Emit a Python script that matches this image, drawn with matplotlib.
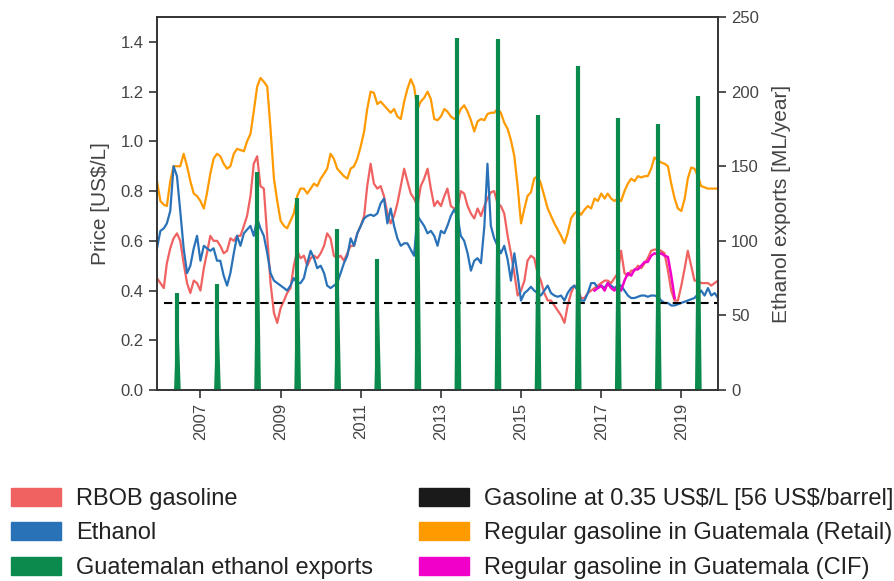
import numpy as np
import pandas as pd
import matplotlib
matplotlib.use('Agg')
import matplotlib.pyplot as plt
import matplotlib.dates as mdates
from matplotlib.patches import Patch

# monthly dates, Dec 2005 .. Dec 2019
dates = pd.date_range('2005-12-01', '2019-12-01', freq='MS')

# US$/L
rbob = [
    0.45, 0.43, 0.41, 0.51, 0.57, 0.61, 0.63, 0.60, 0.51, 0.43,
    0.39, 0.44, 0.43, 0.40, 0.49, 0.55, 0.62, 0.60, 0.60, 0.58,
    0.55, 0.56, 0.61, 0.60, 0.62, 0.62, 0.66, 0.70, 0.78, 0.91,
    0.94, 0.82, 0.81, 0.62, 0.43, 0.31, 0.27, 0.33, 0.36, 0.39,
    0.41, 0.50, 0.56, 0.53, 0.54, 0.50, 0.53, 0.54, 0.53, 0.55,
    0.58, 0.63, 0.61, 0.54, 0.53, 0.54, 0.52, 0.55, 0.58, 0.58,
    0.63, 0.66, 0.70, 0.82, 0.91, 0.83, 0.81, 0.82, 0.78, 0.71,
    0.67, 0.70, 0.75, 0.82, 0.89, 0.84, 0.79, 0.77, 0.74, 0.82,
    0.85, 0.89, 0.81, 0.74, 0.76, 0.74, 0.78, 0.81, 0.74, 0.73,
    0.73, 0.80, 0.79, 0.74, 0.71, 0.69, 0.73, 0.70, 0.74, 0.77,
    0.795, 0.80, 0.75, 0.74, 0.71, 0.62, 0.55, 0.47, 0.38, 0.40,
    0.44, 0.52, 0.54, 0.53, 0.47, 0.44, 0.39, 0.36, 0.36, 0.34,
    0.32, 0.30, 0.27, 0.34, 0.39, 0.42, 0.41, 0.37, 0.37, 0.39,
    0.40, 0.41, 0.42, 0.43, 0.44, 0.44, 0.43, 0.45, 0.47, 0.56,
    0.47, 0.46, 0.48, 0.48, 0.50, 0.49, 0.51, 0.53, 0.56, 0.565,
    0.565, 0.56, 0.55, 0.48, 0.40, 0.36, 0.36, 0.42, 0.49, 0.56,
    0.50, 0.44, 0.44, 0.43, 0.43, 0.43, 0.42, 0.43, 0.44,
]

ethanol = [
    0.57, 0.64, 0.65, 0.67, 0.72, 0.90, 0.86, 0.72, 0.57, 0.47,
    0.50, 0.57, 0.62, 0.52, 0.58, 0.57, 0.56, 0.57, 0.52, 0.52,
    0.46, 0.42, 0.47, 0.55, 0.62, 0.58, 0.63, 0.645, 0.66, 0.62,
    0.69, 0.65, 0.62, 0.55, 0.47, 0.44, 0.43, 0.42, 0.41, 0.40,
    0.42, 0.45, 0.43, 0.43, 0.45, 0.51, 0.56, 0.53, 0.49, 0.50,
    0.47, 0.42, 0.41, 0.42, 0.43, 0.47, 0.51, 0.54, 0.61, 0.58,
    0.63, 0.66, 0.69, 0.70, 0.705, 0.70, 0.71, 0.75, 0.77, 0.67,
    0.73, 0.66, 0.61, 0.58, 0.59, 0.59, 0.565, 0.54, 0.70, 0.68,
    0.66, 0.63, 0.64, 0.62, 0.58, 0.64, 0.63, 0.66, 0.70, 0.725,
    0.70, 0.62, 0.60, 0.55, 0.48, 0.52, 0.53, 0.51, 0.66, 0.91,
    0.66, 0.61, 0.58, 0.55, 0.58, 0.525, 0.44, 0.55, 0.46, 0.36,
    0.39, 0.40, 0.415, 0.40, 0.39, 0.38, 0.40, 0.42, 0.39, 0.38,
    0.375, 0.38, 0.36, 0.39, 0.41, 0.42, 0.40, 0.36, 0.36, 0.39,
    0.43, 0.43, 0.41, 0.42, 0.41, 0.43, 0.42, 0.41, 0.42, 0.42,
    0.40, 0.38, 0.37, 0.37, 0.375, 0.38, 0.38, 0.375, 0.38, 0.38,
    0.375, 0.36, 0.35, 0.35, 0.34, 0.34, 0.345, 0.35, 0.355, 0.36,
    0.365, 0.37, 0.385, 0.40, 0.38, 0.41, 0.38, 0.39, 0.37,
]

retail = [
    0.84, 0.76, 0.745, 0.74, 0.84, 0.90, 0.90, 0.90, 0.95, 0.90,
    0.84, 0.79, 0.78, 0.76, 0.73, 0.79, 0.87, 0.93, 0.95, 0.94,
    0.91, 0.89, 0.90, 0.95, 0.97, 0.965, 0.96, 1.00, 1.03, 1.12,
    1.22, 1.255, 1.24, 1.22, 1.05, 0.85, 0.76, 0.68, 0.66, 0.65,
    0.68, 0.71, 0.78, 0.81, 0.81, 0.79, 0.81, 0.83, 0.82, 0.85,
    0.87, 0.89, 0.95, 0.93, 0.89, 0.875, 0.86, 0.85, 0.89, 0.90,
    0.93, 0.98, 1.04, 1.13, 1.20, 1.195, 1.15, 1.16, 1.145, 1.13,
    1.115, 1.13, 1.10, 1.09, 1.16, 1.21, 1.25, 1.22, 1.13, 1.16,
    1.175, 1.20, 1.17, 1.09, 1.085, 1.10, 1.13, 1.12, 1.10, 1.09,
    1.10, 1.13, 1.145, 1.12, 1.085, 1.04, 1.08, 1.09, 1.085, 1.11,
    1.115, 1.115, 1.13, 1.115, 1.075, 1.05, 1.005, 0.94, 0.82, 0.67,
    0.73, 0.78, 0.795, 0.85, 0.86, 0.83, 0.78, 0.73, 0.70, 0.67,
    0.645, 0.62, 0.59, 0.63, 0.69, 0.71, 0.72, 0.705, 0.725, 0.74,
    0.73, 0.77, 0.76, 0.79, 0.77, 0.79, 0.77, 0.76, 0.77, 0.76,
    0.80, 0.83, 0.85, 0.84, 0.86, 0.855, 0.86, 0.86, 0.89, 0.935,
    0.925, 0.915, 0.91, 0.90, 0.83, 0.77, 0.73, 0.72, 0.77, 0.85,
    0.895, 0.89, 0.86, 0.82, 0.815, 0.81, 0.81, 0.81, 0.81,
]

# CIF price, Nov 2016 .. Nov 2018
cif_dates = pd.date_range('2016-11-01', '2018-11-01', freq='MS')
cif = [
    0.40, 0.41, 0.42, 0.40, 0.43, 0.41, 0.40, 0.42, 0.40, 0.44,
    0.47, 0.46, 0.485, 0.485, 0.50, 0.515, 0.515, 0.54, 0.55, 0.545,
    0.55, 0.54, 0.535, 0.46, 0.37,
]

gasoline_ref = 0.35  # US$/L (56 US$/barrel)

# ethanol exports (ML/year), shipped once a year in June
export_years = list(range(2006, 2020))
exports = [65, 71, 146, 129, 108, 88, 198, 236, 235, 184, 217, 182, 178, 197]

exp_series = pd.Series(0.0, index=dates)
for y, v in zip(export_years, exports):
    exp_series[pd.Timestamp(y, 6, 1)] = v

c_red = '#f06262'
c_blue = '#2a72b8'
c_green = '#0a8a4c'
c_orange = '#ff9a00'
c_mag = '#f000c8'

plt.rcParams['font.family'] = ['Liberation Sans', 'DejaVu Sans']

fig = plt.figure(figsize=(8.95, 5.81), dpi=100)
ax1 = fig.add_axes([0.1754, 0.3287, 0.6268, 0.642])
ax2 = ax1.twinx()

# price lines
ax1.plot(dates, retail, color=c_orange, lw=1.6)
ax1.plot(dates, rbob, color=c_red, lw=1.6)
ax1.plot(dates, ethanol, color=c_blue, lw=1.6)
ax1.plot(cif_dates, cif, color=c_mag, lw=1.8)
ax1.plot(dates[2:], np.full(len(dates) - 2, gasoline_ref), color='k', lw=1.5,
         dashes=(4, 2.6))

# export spikes on the right axis, drawn above the price lines
ax2.fill_between(dates, exp_series.values, 0, color=c_green, lw=0)
june = [pd.Timestamp(y, 6, 1) for y in export_years]
ax2.vlines(june, 0, exports, color=c_green, lw=3)

ax1.set_xlim(dates[0], dates[-1])
ax1.set_ylim(0, 1.5)
ax2.set_ylim(0, 250)
ax1.set_yticks(np.arange(0, 1.41, 0.2))
ax2.set_yticks(range(0, 251, 50))
ax1.yaxis.set_major_formatter(plt.FormatStrFormatter('%.1f'))

ax1.set_xticks([pd.Timestamp(y, 1, 1) for y in range(2007, 2020, 2)])
ax1.xaxis.set_major_formatter(mdates.DateFormatter('%Y'))

for ax in (ax1, ax2):
    ax.tick_params(direction='out', length=6, width=1.2, labelsize=12,
                   colors='#333333', labelcolor='#444444')
    for s in ax.spines.values():
        s.set_color('#333333')
        s.set_linewidth(1.2)
plt.setp(ax1.get_xticklabels(), rotation=90)

ax1.set_ylabel(r'Price [US\$/L]', fontsize=15, color='#444444', labelpad=8)
ax2.set_ylabel('Ethanol exports [ML/year]', fontsize=15, color='#444444',
               labelpad=9)

handles = [
    Patch(color=c_red, label='RBOB gasoline'),
    Patch(color=c_blue, label='Ethanol'),
    Patch(color=c_green, label='Guatemalan ethanol exports'),
    Patch(color='#1a1a1a', label=r'Gasoline at 0.35 US\$/L [56 US\$/barrel]'),
    Patch(color=c_orange, label='Regular gasoline in Guatemala (Retail)'),
    Patch(color=c_mag, label='Regular gasoline in Guatemala (CIF)'),
]
leg = fig.legend(handles=handles, loc='upper left', bbox_to_anchor=(0.002, 0.177),
                 ncol=2, frameon=False, fontsize=17, handlelength=2.1,
                 handleheight=0.8, handletextpad=0.65, columnspacing=1.95,
                 labelspacing=0.52, borderaxespad=0.0)
for t in leg.get_texts():
    t.set_color('#222222')

fig.savefig('out.png', dpi=100)
